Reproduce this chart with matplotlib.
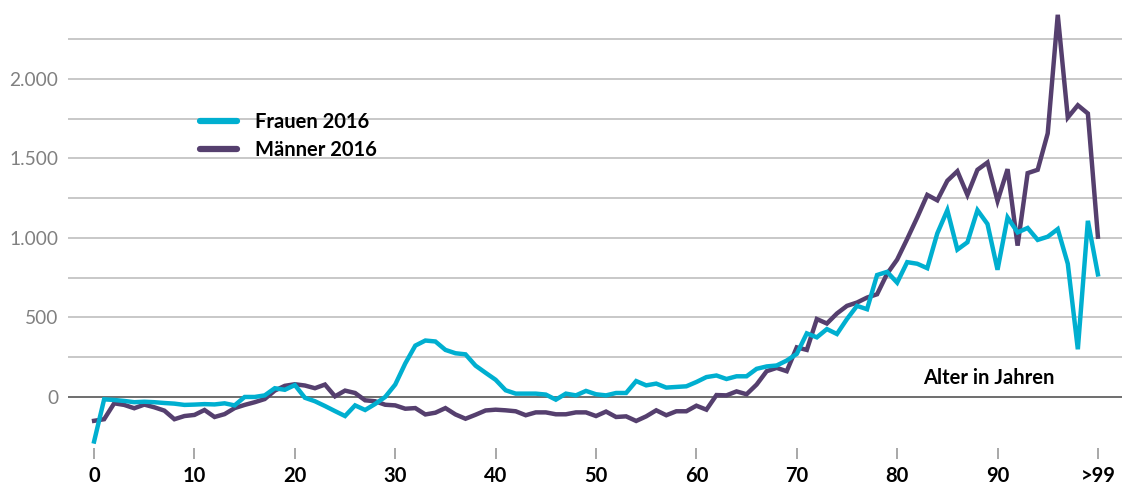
import numpy as np
import matplotlib
matplotlib.use("Agg")
import matplotlib.pyplot as plt
from matplotlib.ticker import FuncFormatter

plt.rcParams['font.family'] = ['Lato', 'DejaVu Sans']

# Alter 0..100 (100 = ">99")
alter = np.arange(0, 101)

frauen = [-280, -15, -19, -25, -33, -30, -33, -38, -42, -50,
          -48, -45, -47, -40, -53, 0, 0, 10, 55, 45,
          75, -5, -27, -57, -89, -120, -53, -82, -44, 0,
          78, 211, 323, 355, 349, 296, 275, 268, 197, 152,
          108, 42, 21, 21, 21, 15, -17, 21, 10, 38,
          17, 10, 25, 25, 100, 73, 84, 59, 63, 67,
          94, 125, 135, 113, 130, 130, 177, 192, 198, 229,
          271, 400, 375, 427, 396, 490, 573, 552, 767, 787,
          719, 848, 838, 810, 1029, 1175, 927, 973, 1175, 1088,
          800, 1129, 1035, 1063, 988, 1008, 1056, 838, 300, 1108,
          771]

maenner = [-150, -140, -40, -50, -71, -48, -65, -86, -140, -120,
           -113, -82, -126, -108, -70, -50, -33, -13, 40, 70,
           80, 72, 55, 78, 4, 40, 25, -21, -27, -49,
           -53, -74, -70, -110, -99, -70, -110, -137, -112, -85,
           -80, -84, -90, -115, -97, -97, -109, -109, -97, -97,
           -120, -92, -126, -122, -151, -122, -84, -115, -90, -90,
           -55, -80, 12, 10, 35, 17, 78, 162, 183, 162,
           312, 296, 490, 462, 525, 573, 594, 625, 646, 775,
           864, 994, 1129, 1271, 1237, 1360, 1420, 1271, 1429, 1475,
           1233, 1433, 952, 1408, 1429, 1658, 2404, 1758, 1835, 1783,
           1008]

x_ticks = [0, 10, 20, 30, 40, 50, 60, 70, 80, 90, 100]
x_labels = ['0', '10', '20', '30', '40', '50', '60', '70', '80', '90', '>99']

cyan = '#00afd0'
lila = '#553f6e'

fig = plt.figure(figsize=(11.22, 4.84), dpi=100)
ax = fig.add_axes([0.0606, 0.0744, 0.9394, 0.9256])

# Gitterlinien
for v in np.arange(250, 2251, 250):
    ax.axhline(v, color='#c8c8c8', linewidth=1.4, zorder=1)
ax.axhline(0, color='#6e6e6e', linewidth=1.4, zorder=1)

ax.plot(alter, frauen, color=cyan, linewidth=3.2, label='Frauen 2016', zorder=3,
        solid_joinstyle='miter')
ax.plot(alter, maenner, color=lila, linewidth=3.2, label='Männer 2016', zorder=2,
        solid_joinstyle='miter')

ax.set_xlim(-2.6, 102.4)
ax.set_ylim(-321, 2497)

ax.set_xticks(x_ticks)
ax.set_xticklabels(x_labels, fontsize=14.5, fontweight='bold', color='black')
ax.set_yticks([0, 500, 1000, 1500, 2000])
ax.yaxis.set_major_formatter(FuncFormatter(lambda v, p: f'{int(v):,}'.replace(',', '.')))
ax.tick_params(axis='y', length=0, pad=7, labelsize=13.8, labelcolor='#808080')
ax.tick_params(axis='x', length=8, width=1.2, color='#9a9a9a', pad=5)

for s in ax.spines.values():
    s.set_visible(False)

ax.text(82.6, 120, 'Alter in Jahren', fontsize=14.5, fontweight='bold', va='center')

leg = ax.legend(loc='upper left', bbox_to_anchor=(0.108, 0.791), frameon=False,
                prop={'size': 14.5, 'weight': 'bold'}, handlelength=1.85,
                handletextpad=0.9, labelspacing=0.4)
for line in leg.get_lines():
    line.set_linewidth(4.5)
    line.set_solid_capstyle('round')

fig.savefig('out.png', dpi=100)
